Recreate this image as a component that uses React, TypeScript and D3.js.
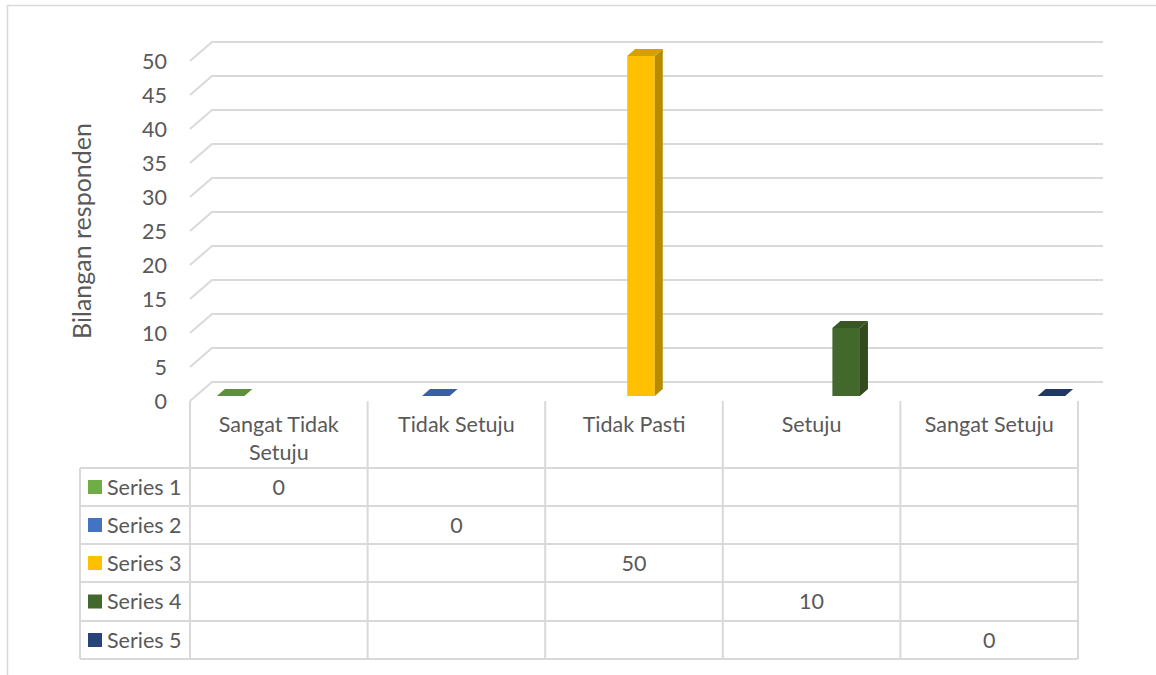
import React from 'react';
import * as d3 from 'd3';

const categories = ['Sangat Tidak Setuju', 'Tidak Setuju', 'Tidak Pasti', 'Setuju', 'Sangat Setuju'];
const seriesNames = ['Series 1', 'Series 2', 'Series 3', 'Series 4', 'Series 5'];
const series1 = [0, null, null, null, null];
const series2 = [null, 0, null, null, null];
const series3 = [null, null, 50, null, null];
const series4 = [null, null, null, 10, null];
const series5 = [null, null, null, null, 0];
const yTicks = [0, 5, 10, 15, 20, 25, 30, 35, 40, 45, 50];
const yTitle = 'Bilangan responden';

const seriesValues = [series1, series2, series3, series4, series5];
const colors = ['#70AD47', '#4472C4', '#FFC000', '#43682B', '#264478'];

const W = 1156, H = 675;
const font = 'Lato, "Open Sans", sans-serif';
const fs = 21.5;
const txt = '#595959';
const grid = '#D9D9D9';

// wall depth and bar depth offsets
const DX = 22, DY = -19;
const BDX = 7, BDY = -5;
const BW = 8, BH = -7;

const tableRows = [468, 506, 544, 582, 621, 659];

export default function App() {
  const x = d3.scaleBand<string>().domain(categories).range([190, 1078]).padding(0);
  const xs = d3.scaleBand<string>().domain(seriesNames).range([0, x.bandwidth()]).paddingInner(0).paddingOuter(0.72);
  const y = d3.scaleLinear().domain([0, 50]).range([401, 61]);

  const wrap = (s: string) => (s === 'Sangat Tidak Setuju' ? ['Sangat Tidak', 'Setuju'] : [s]);

  const bars: React.ReactNode[] = [];
  seriesValues.forEach((vals, si) => {
    vals.forEach((v, ci) => {
      if (v === null) return;
      const bx = (x(categories[ci]) as number) + (xs(seriesNames[si]) as number) + BDX;
      const bw = xs.bandwidth();
      const yb = y(0) + BDY;
      const yt = y(v) + BDY;
      const c = d3.color(colors[si])!;
      const top = c.darker(0.5).formatHex();
      const side = c.darker(0.9).formatHex();
      bars.push(
        <g key={`${si}-${ci}`}>
          {v > 0 && <rect x={bx} y={yt} width={bw} height={yb - yt} fill={colors[si]} />}
          {v > 0 && (
            <polygon
              points={`${bx + bw},${yt} ${bx + bw + BW},${yt + BH} ${bx + bw + BW},${yb + BH} ${bx + bw},${yb}`}
              fill={side}
            />
          )}
          <polygon
            points={`${bx},${yt} ${bx + bw},${yt} ${bx + bw + BW},${yt + BH} ${bx + BW},${yt + BH}`}
            fill={top}
          />
        </g>
      );
    });
  });

  return (
    <svg width={W} height={H} style={{ position: 'absolute', left: 0, top: 0, background: '#fff' }}>
      <rect x={7.5} y={5.5} width={W + 10} height={H + 10} fill="#fff" stroke={grid} strokeWidth={1.5} />

      {/* gridlines */}
      {yTicks.map((t) => (
        <polyline
          key={t}
          points={`190,${y(t)} ${190 + DX},${y(t) + DY} ${1081 + DX},${y(t) + DY}`}
          fill="none"
          stroke={grid}
          strokeWidth={2}
        />
      ))}

      {/* y tick labels */}
      {yTicks.map((t) => (
        <text key={t} x={167} y={y(t)} dy="0.35em" textAnchor="end" fontFamily={font} fontSize={fs} fill={txt}>
          {t}
        </text>
      ))}

      <text
        transform={`translate(91,231) rotate(-90)`}
        textAnchor="middle"
        fontFamily={font}
        fontSize={25}
        fill={txt}
      >
        {yTitle}
      </text>

      {bars}

      {/* data table */}
      <g stroke={grid} strokeWidth={2}>
        {tableRows.map((ry) => (
          <line key={ry} x1={80} x2={1078} y1={ry} y2={ry} />
        ))}
        <line x1={80} x2={80} y1={tableRows[0]} y2={tableRows[tableRows.length - 1]} />
        {categories.map((c) => (
          <line key={c} x1={x(c)} x2={x(c)} y1={401} y2={tableRows[tableRows.length - 1]} />
        ))}
        <line x1={1078} x2={1078} y1={401} y2={tableRows[tableRows.length - 1]} />
      </g>

      {categories.map((c) => (
        <text key={c} textAnchor="middle" fontFamily={font} fontSize={fs} fill={txt}>
          {wrap(c).map((line, i) => (
            <tspan key={i} x={(x(c) as number) + x.bandwidth() / 2} y={432 + i * 28}>
              {line}
            </tspan>
          ))}
        </text>
      ))}

      {seriesNames.map((s, si) => {
        const ry = (tableRows[si] + tableRows[si + 1]) / 2;
        return (
          <g key={s}>
            <rect x={88} y={ry - 7} width={14} height={14} fill={colors[si]} />
            <text x={107} y={ry} dy="0.35em" fontFamily={font} fontSize={fs} fill={txt}>
              {s}
            </text>
            {seriesValues[si].map((v, ci) =>
              v === null ? null : (
                <text
                  key={ci}
                  x={(x(categories[ci]) as number) + x.bandwidth() / 2}
                  y={ry}
                  dy="0.35em"
                  textAnchor="middle"
                  fontFamily={font}
                  fontSize={fs}
                  fill={txt}
                >
                  {v}
                </text>
              )
            )}
          </g>
        );
      })}
    </svg>
  );
}
